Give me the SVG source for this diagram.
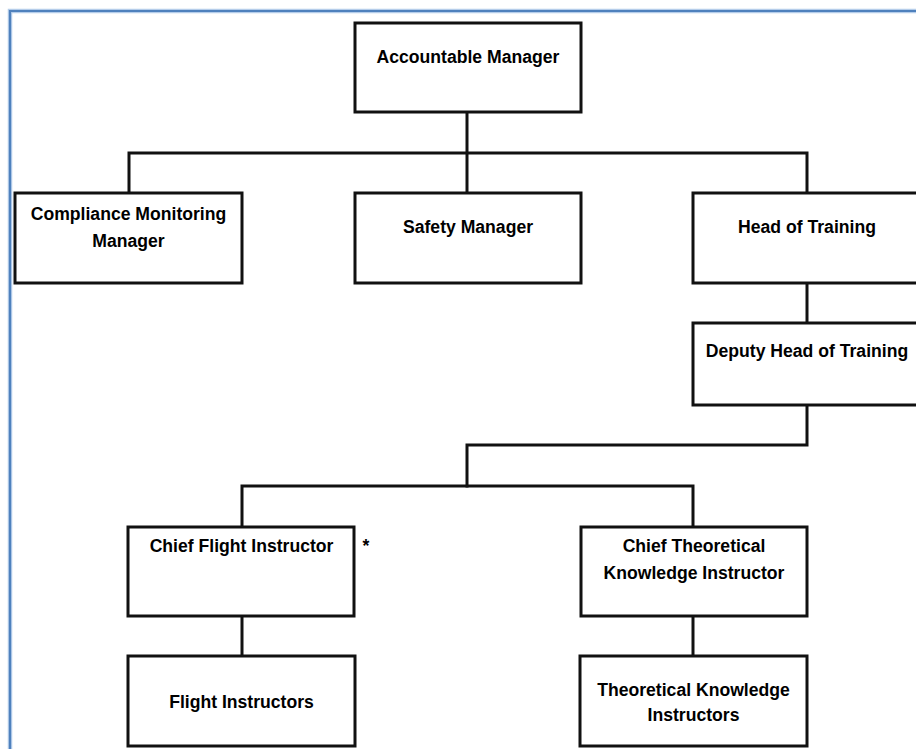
<svg xmlns="http://www.w3.org/2000/svg" width="916" height="749" viewBox="0 0 916 749">
<style>
.box{fill:#fff;stroke:#111;stroke-width:3}
.con{fill:none;stroke:#111;stroke-width:3;stroke-linejoin:miter;stroke-linecap:square}
text{font-family:"Liberation Sans",Arial,sans-serif;font-weight:bold;font-size:17.6px;fill:#000;text-anchor:middle}
</style>
<rect width="916" height="749" fill="#fff"/>
<g id="frame">
<path d="M10,749 V11 H916" fill="none" stroke="#b5cdea" stroke-width="4.5"/>
<path d="M10,749 V11 H916" fill="none" stroke="#4f81bd" stroke-width="2.2"/>
</g>
<g id="connectors">
<path class="con" d="M467,112 V193"/>
<path class="con" d="M129,193 V153 H807 V193"/>
<path class="con" d="M807,283 V323"/>
<path class="con" d="M807,405 V445 H467 V486"/>
<path class="con" d="M242,527 V486 H693 V527"/>
<path class="con" d="M242,616 V656"/>
<path class="con" d="M693,616 V656"/>
</g>
<g id="accountable-manager">
<rect class="box" x="355" y="23" width="226" height="89"/>
<text x="468" y="63">Accountable Manager</text>
</g>
<g id="compliance-monitoring-manager">
<rect class="box" x="15" y="193" width="227" height="90"/>
<text x="128.5" y="220">Compliance Monitoring</text>
<text x="128.5" y="247">Manager</text>
</g>
<g id="safety-manager">
<rect class="box" x="355" y="193" width="226" height="90"/>
<text x="468" y="233">Safety Manager</text>
</g>
<g id="head-of-training">
<rect class="box" x="693" y="193" width="228" height="90"/>
<text x="807" y="233">Head of Training</text>
</g>
<g id="deputy-head-of-training">
<rect class="box" x="693" y="323" width="228" height="82"/>
<text x="807" y="357">Deputy Head of Training</text>
</g>
<g id="chief-flight-instructor">
<rect class="box" x="128" y="527" width="226" height="89"/>
<text x="241.5" y="552">Chief Flight Instructor</text>
<text x="366" y="552">*</text>
</g>
<g id="chief-theoretical-knowledge-instructor">
<rect class="box" x="581" y="527" width="226" height="89"/>
<text x="694" y="552">Chief Theoretical</text>
<text x="694" y="579">Knowledge Instructor</text>
</g>
<g id="flight-instructors">
<rect class="box" x="128" y="656" width="227" height="90"/>
<text x="241.5" y="708">Flight Instructors</text>
</g>
<g id="theoretical-knowledge-instructors">
<rect class="box" x="580" y="656" width="227" height="90"/>
<text x="693.5" y="696">Theoretical Knowledge</text>
<text x="693.5" y="721">Instructors</text>
</g>
</svg>
